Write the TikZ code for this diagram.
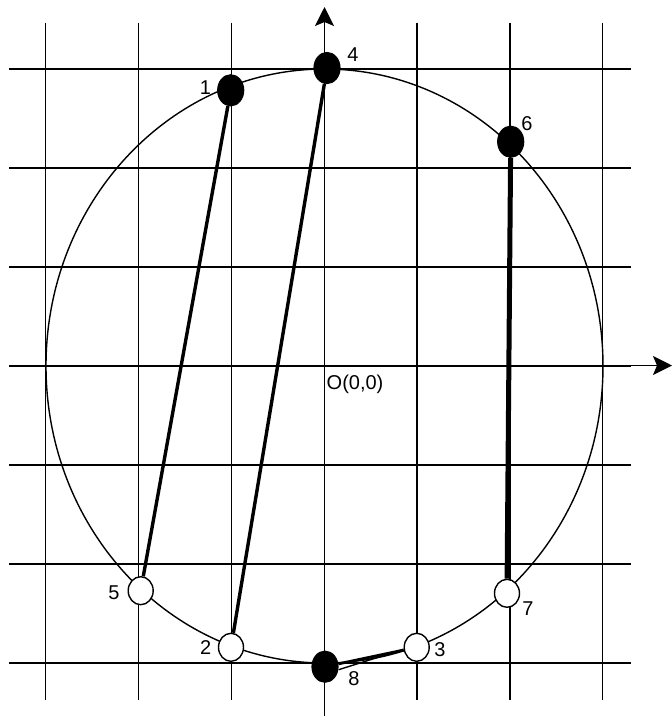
\documentclass[tikz,border=0pt]{standalone}
\usepackage{fontspec}
\setmainfont{Liberation Sans}
\usetikzlibrary{shapes.geometric,arrows.meta}
\tikzset{
  gridline/.style={line width=1.4pt},
  axisline/.style={line width=1.4pt,-{Stealth[length=19pt,width=19pt,inset=4pt]}},
  fullmark/.style={ellipse,draw,fill=black,line width=1.2pt,minimum width=26pt,minimum height=31pt,inner sep=0pt},
  openmark/.style={ellipse,draw,fill=white,line width=1.4pt,minimum width=25pt,minimum height=28pt,inner sep=0pt},
  lbl/.style={inner sep=0pt,font=\fontsize{20}{24}\selectfont},
  chord/.style={line width=3.4pt},
  heavychord/.style={line width=5pt},
}
\begin{document}
\begin{tikzpicture}[x=1pt,y=-1pt]
\useasboundingbox (0,0) rectangle (672,716);
% grid
\foreach \gx in {45.5,138.5,231.5,324.5,417,510,602.5}
  \draw[gridline] (\gx,22.7) -- (\gx,700);
\foreach \gy in {69,168,267,366,465,564,663}
  \draw[gridline] (9.3,\gy) -- (631,\gy);
% axes
\coordinate (ybot) at (324.5,716);
\coordinate (ytop) at (324.5,7);
\coordinate (xleft) at (9.3,365.5);
\coordinate (xright) at (672,365.5);
\draw[axisline] (ybot) -- (ytop);
\draw[axisline] (xleft) -- (xright);
% circle
\draw[line width=1.4pt] (324.5,366) ellipse [x radius=278.5pt, y radius=297pt];
% markers
\node[fullmark] (m1) at (230.7,90.3) {};
\node[fullmark] (m4) at (327,68) {};
\node[fullmark] (m6) at (510.7,141.7) {};
\node[fullmark] (m8) at (325,666.7) {};
\node[openmark] (m5) at (140.7,590.7) {};
\node[openmark] (m2) at (231,647.3) {};
\node[openmark] (m3) at (416.7,647.3) {};
\node[openmark] (m7) at (507,593.3) {};
% chords
\draw[chord] (m1) -- (m5);
\draw[chord] (m4) -- (m2);
\draw[heavychord] (m6) -- (m7);
\draw[line width=2.8pt] (m8) -- (m3);
\draw[line width=1.4pt] ([yshift=-3pt]m8.east) -- ([yshift=-2pt]m3.west);
% labels
\node[lbl] (t1) at (205.5,87.7) {1};
\node[lbl] (t4) at (353,54.7) {4};
\node[lbl] (t6) at (527,124) {6};
\node[lbl] (t5) at (114,592.7) {5};
\node[lbl] (t2) at (205.7,648) {2};
\node[lbl] (t7) at (528,609) {7};
\node[lbl] (t3) at (440,650) {3};
\node[lbl] (t8) at (354,679) {8};
\node[lbl,anchor=west] (to) at (326.5,384) {O(0,0)};
\end{tikzpicture}
\end{document}
